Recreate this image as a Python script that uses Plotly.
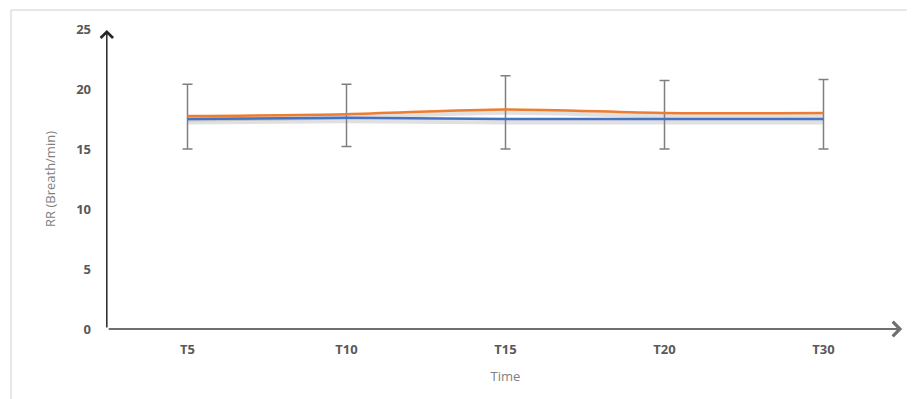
import plotly.graph_objects as go

categories = ["T5", "T10", "T15", "T20", "T30"]
group_orange = [17.75, 17.9, 18.3, 18.0, 18.0]
group_blue = [17.5, 17.6, 17.5, 17.5, 17.5]
err_upper = [20.4, 20.4, 21.1, 20.7, 20.8]
err_lower = [15.0, 15.2, 15.0, 15.0, 15.0]
y_ticks = [0, 5, 10, 15, 20, 25]

err_plus = [u - m for u, m in zip(err_upper, group_orange)]
err_minus = [m - l for m, l in zip(group_orange, err_lower)]

OFF = 8  # page body margin
W, H = 915, 399
L, R, T, B = 108 - OFF, 12 + OFF, 29 - OFF, 70 + OFF
pw, ph = W - L - R, H - T - B

fig = go.Figure()

# soft shadows under the lines
for vals, shape in ((group_blue, "linear"), (group_orange, "spline")):
    fig.add_trace(go.Scatter(
        x=categories, y=[v - 0.2 for v in vals], mode="lines",
        line=dict(color="rgba(0,0,0,0.12)", width=6, shape=shape, smoothing=0.8),
        hoverinfo="skip", showlegend=False))

fig.add_trace(go.Scatter(
    x=categories, y=group_orange, mode="lines", name="Group 2",
    line=dict(color="#ED7D31", width=2.5, shape="spline", smoothing=0.8),
    error_y=dict(type="data", symmetric=False, array=err_plus,
                 arrayminus=err_minus, color="#7f7f7f", thickness=1.5, width=5),
    showlegend=False))
fig.add_trace(go.Scatter(
    x=categories, y=group_blue, mode="lines", name="Group 1",
    line=dict(color="#4472C4", width=2.5),
    showlegend=False))

font_tick = dict(family="Open Sans, Liberation Sans, sans-serif", size=13, color="#595959")

fig.update_layout(
    width=W, height=H,
    margin=dict(l=L, r=R, t=T, b=B),
    paper_bgcolor="white", plot_bgcolor="white",
    xaxis=dict(
        range=[-0.5, 4.5], showgrid=False, zeroline=False, showline=False,
        tickfont=dict(**font_tick, weight="bold"), ticks="", ticklabelstandoff=11,
        title=dict(text="Time", font=dict(family="Open Sans, sans-serif", size=13, color="#7f7f7f"), standoff=14),
        fixedrange=True),
    yaxis=dict(
        range=[0, 25], tickvals=y_ticks, showgrid=False, zeroline=False, showline=False,
        tickfont=dict(**font_tick, weight="bold"), ticks="", ticklabelstandoff=16,
        title=dict(text="RR (Breath/min)", font=dict(family="Open Sans, sans-serif", size=13, color="#7f7f7f"), standoff=17),
        fixedrange=True),
)

# outer chart border
fig.add_shape(type="rect", xref="paper", yref="paper",
              x0=(11 - OFF - L) / pw, x1=(W + 20 - L) / pw,
              y0=-(H + 20 - T - ph) / ph, y1=(ph + T - (10 - OFF)) / ph,
              line=dict(color="#d0d0d0", width=1), fillcolor="rgba(0,0,0,0)", layer="below")

# axis arrows
fig.add_annotation(xref="x domain", yref="y domain", x=-0.0015, y=0.997,
                   ax=0, ay=ph - 1, text="", showarrow=True,
                   arrowhead=4, arrowsize=1.6, arrowwidth=1.5, arrowcolor="#262626", standoff=0)
fig.add_annotation(xref="x domain", yref="y domain", x=0.999, y=0,
                   ax=-pw, ay=0, text="", showarrow=True,
                   arrowhead=4, arrowsize=1.4, arrowwidth=2, arrowcolor="#6f6f6f", standoff=0)

fig.write_html("out.html")
